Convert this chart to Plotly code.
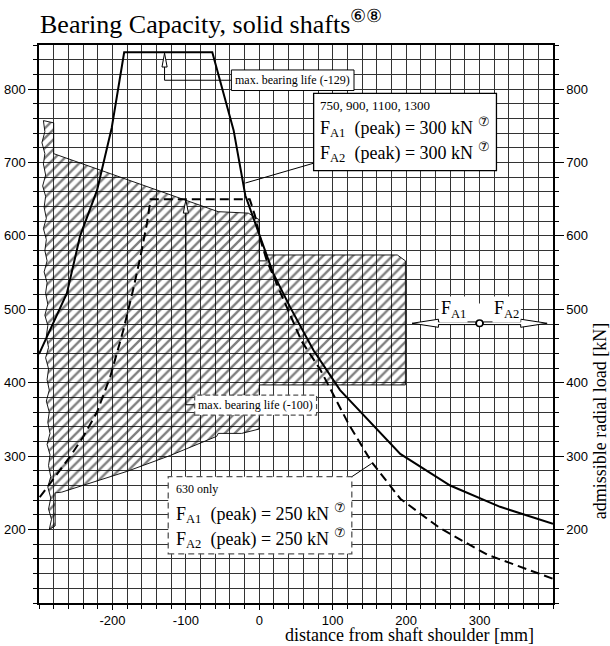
import plotly.graph_objects as go

# ---------------- data ----------------
solid_x = [-300, -285, -262, -244, -221, -201, -184, -64, -50, -35, -19, 1, 19, 42, 74, 110, 151, 192, 260, 328, 400]
solid_y = [439, 472, 522, 600, 662, 747, 850, 850, 797, 744, 655, 599, 549, 503, 444, 390, 347, 303, 260, 231, 208]

dashed_x = [-299, -278, -258, -240, -221, -203, -185, -172, -162, -153, -148, -13, -6, 3, 10, 30, 58, 83, 100, 121, 153, 192, 246, 310, 400]
dashed_y = [244, 272, 299, 326, 360, 408, 472, 526, 571, 617, 650, 650, 628, 590, 567, 520, 456, 418, 385, 345, 292, 242, 202, 166, 133]

# hatched region outline (clockwise from the top-left corner, then the break line back up)
hatch_x = [-294, -280, -280, -56, -15, 0, 0, 10, 10, 188, 199, 199, 0, 0, -24, -56, -58, -121, -181, -249, -269, -278, -278,
           -286, -283, -287, -284, -288, -284, -287, -285, -289, -285, -288, -286, -290, -286, -289, -287, -291, -287, -290, -288,
           -292, -288, -291, -289, -293, -289, -292, -290, -294, -290, -293, -291, -295, -291, -294, -292, -296, -292, -294]
hatch_y = [757, 754, 712, 633, 631, 622, 566, 566, 574, 574, 566, 397, 397, 337, 331, 331, 327, 301, 279, 258, 251, 250, 205,
           200, 214, 228, 243, 258, 272, 287, 302, 316, 331, 346, 360, 375, 390, 404, 419, 434, 448, 463, 478,
           492, 507, 522, 536, 551, 566, 580, 595, 610, 624, 639, 654, 668, 683, 698, 712, 727, 742, 757]

x_tick_vals = [-200, -100, 0, 100, 200, 300]
x_tick_text = ["-200", "-100", "0", "100", "200", "300"]
y_tick_vals = [200, 300, 400, 500, 600, 700, 800]
y_tick_text = ["200", "300", "400", "500", "600", "700", "800"]

x_range = [-300, 400]
y_range = [100, 860]

SERIF = "Liberation Serif, Times New Roman, serif"
NARROW = "Liberation Sans Narrow, Arial Narrow, Liberation Sans, sans-serif"
GRID = "#333333"

fig = go.Figure()

fig.add_trace(go.Scatter(
    x=hatch_x, y=hatch_y, mode="lines", fill="toself",
    fillcolor="rgba(0,0,0,0)",
    fillpattern=dict(shape="/", fgcolor="black", size=7, solidity=0.34),
    line=dict(color="black", width=0.9), hoverinfo="skip", showlegend=False))

fig.add_trace(go.Scatter(x=dashed_x, y=dashed_y, mode="lines",
                         line=dict(color="black", width=2, dash="9px,5px"),
                         showlegend=False))
fig.add_trace(go.Scatter(x=solid_x, y=solid_y, mode="lines",
                         line=dict(color="black", width=2), showlegend=False))
# carrier for the right-hand axis
fig.add_trace(go.Scatter(x=[x_range[0]], y=[y_range[0]], yaxis="y2", mode="markers",
                         marker=dict(opacity=0), hoverinfo="skip", showlegend=False))

axis_common = dict(showgrid=True, gridcolor=GRID, gridwidth=1, zeroline=False,
                   showline=True, linecolor="black", linewidth=1.5, automargin=False,
                   ticks="outside", tickcolor="black", tickwidth=1,
                   tickfont=dict(family=NARROW, size=13, color="black"))

fig.update_layout(
    width=610, height=646,
    margin=dict(l=39, r=57, t=45, b=43, autoexpand=False),
    paper_bgcolor="white", plot_bgcolor="white",
    showlegend=False,
    title=dict(text="Bearing Capacity, solid shafts<sup>⑥⑧</sup>",
               font=dict(family=SERIF, size=26, color="black"),
               xref="container", x=40 / 610, xanchor="left",
               yref="container", y=1 - 24 / 646, yanchor="middle", automargin=False),
    xaxis=dict(range=x_range, tickmode="array", tickvals=x_tick_vals, ticktext=x_tick_text,
               ticklen=5, mirror=True,
               minor=dict(dtick=20, tick0=0, showgrid=True, gridcolor=GRID, gridwidth=1,
                          ticks="outside", ticklen=4, tickcolor="black"),
               **axis_common),
    yaxis=dict(range=y_range, tickmode="array", tickvals=y_tick_vals, ticktext=y_tick_text,
               ticklen=9,
               minor=dict(dtick=20, tick0=0, showgrid=True, gridcolor=GRID, gridwidth=1,
                          ticks="outside", ticklen=4, tickcolor="black"),
               **axis_common),
    yaxis2=dict(range=y_range, overlaying="y", side="right", tickmode="array",
                tickvals=y_tick_vals, ticktext=y_tick_text, ticklen=9, automargin=False,
                showgrid=False, zeroline=False, showline=True, linecolor="black", linewidth=1.5,
                ticks="outside", tickcolor="black",
                tickfont=dict(family=NARROW, size=13, color="black"),
                minor=dict(dtick=20, tick0=0, ticks="outside", ticklen=4, tickcolor="black", showgrid=False)),
)

shapes = []
# --- max. bearing life (-129) box and arrow
shapes.append(dict(type="path", path="M -129,830 L -129,812 L -38,812", line=dict(color="black", width=1)))
shapes.append(dict(type="path", path="M -129,849 L -132.5,830 L -125.5,830 Z",
                   line=dict(color="black", width=1), fillcolor="white"))
shapes.append(dict(type="rect", x0=-38, x1=129, y0=798, y1=826,
                   line=dict(color="black", width=1), fillcolor="white"))
# --- 300 kN box
shapes.append(dict(type="line", x0=-19, y0=672, x1=74, y1=699, line=dict(color="black", width=1)))
shapes.append(dict(type="rect", x0=74, x1=323, y0=689, y1=794,
                   line=dict(color="black", width=1.3), fillcolor="white"))
# --- max. bearing life (-100) box and arrow
shapes.append(dict(type="path", path="M -100,631 L -100,370 L -88,370", line=dict(color="black", width=1)))
shapes.append(dict(type="path", path="M -100,649 L -103.5,631 L -96.5,631 Z",
                   line=dict(color="black", width=1), fillcolor="white"))
shapes.append(dict(type="rect", x0=-88, x1=78, y0=356, y1=383,
                   line=dict(color="#555", width=1.2, dash="5px,3px"), fillcolor="white"))
# --- 630 only box
shapes.append(dict(type="line", x0=126, y0=272, x1=153, y1=290, line=dict(color="black", width=1)))
shapes.append(dict(type="rect", x0=-124, x1=126, y0=167, y1=272,
                   line=dict(color="#555", width=1.3, dash="6px,4px"), fillcolor="white"))
# --- force diagram
shapes.append(dict(type="rect", x0=244, x1=356, y0=483, y1=508, line=dict(width=0), fillcolor="white"))
shapes.append(dict(type="path",
                   path="M 208,481 L 244,486.5 L 244,482.8 L 295,482.8 L 295,479.2 L 244,479.2 L 244,475.5 Z",
                   line=dict(color="black", width=1), fillcolor="white"))
shapes.append(dict(type="path",
                   path="M 392,481 L 356,486.5 L 356,482.8 L 305,482.8 L 305,479.2 L 356,479.2 L 356,475.5 Z",
                   line=dict(color="black", width=1), fillcolor="white"))
shapes.append(dict(type="circle", x0=295.5, x1=304.5, y0=476.5, y1=485.5,
                   line=dict(color="black", width=1.6), fillcolor="white"))
fig.update_layout(shapes=shapes)

ann = []
def txt(x, y, s, size, xanchor="left", **kw):
    d = dict(x=x, y=y, xref="x", yref="y", text=s, showarrow=False, xanchor=xanchor, yanchor="middle",
             font=dict(family=SERIF, size=size, color="black"))
    d.update(kw)
    ann.append(d)

txt(45.5, 812, "max. bearing life (-129)", 12, xanchor="center")
txt(80, 777, "750, 900, 1100, 1300", 13)
txt(80, 747, "F<sub>A1</sub>  (peak) = 300 kN <sup>⑦</sup>", 18)
txt(80, 713, "F<sub>A2</sub>  (peak) = 300 kN <sup>⑦</sup>", 18)
txt(-5, 369.5, "max. bearing life (-100)", 12, xanchor="center")
txt(-116, 255, "630 only", 12)
txt(-116, 222, "F<sub>A1</sub>  (peak) = 250 kN <sup>⑦</sup>", 18)
txt(-116, 188, "F<sub>A2</sub>  (peak) = 250 kN <sup>⑦</sup>", 18)
txt(264, 500, "F<sub>A1</sub>", 18, xanchor="center", bgcolor="white")
txt(336, 500, "F<sub>A2</sub>", 18, xanchor="center", bgcolor="white")

ann.append(dict(x=205, y=-0.058, xref="x", yref="paper", text="distance from shaft shoulder [mm]",
                showarrow=False, xanchor="center", yanchor="middle",
                font=dict(family=SERIF, size=18, color="black")))
ann.append(dict(x=1.092, y=348, xref="paper", yref="y", text="admissible radial load [kN]",
                showarrow=False, xanchor="center", yanchor="middle", textangle=-90,
                font=dict(family=SERIF, size=18, color="black")))
fig.update_layout(annotations=ann)

fig.write_html("out.html", config={"displayModeBar": False},
               post_script="document.body.style.margin='0px';")
